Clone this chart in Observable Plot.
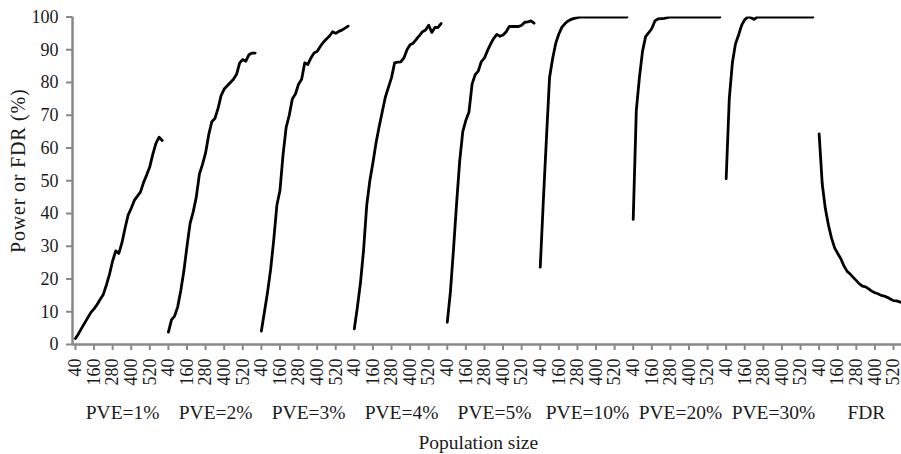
<!DOCTYPE html>
<html>
<head>
<meta charset="utf-8">
<script src="https://cdn.jsdelivr.net/npm/d3@7"></script>
<script src="https://cdn.jsdelivr.net/npm/@observablehq/plot@0.6"></script>
<style>
  html, body { margin: 0; padding: 0; background: #fff; overflow: hidden; }
  #chart { width: 901px; height: 454px; overflow: hidden; }
  #chart .y-title text { letter-spacing: 0.8px; }
</style>
</head>
<body>
<div id="chart"></div>
<script>
// Population sizes simulated within each scenario
const populationSizes = [40, 60, 80, 100, 120, 140, 160, 180, 200, 220, 240, 260, 280, 300, 320,
  340, 360, 380, 400, 420, 440, 460, 480, 500, 520, 540, 560, 580, 600];

// Scenario names, one panel each
const panelLabels = ["PVE=1%", "PVE=2%", "PVE=3%", "PVE=4%", "PVE=5%", "PVE=10%", "PVE=20%", "PVE=30%", "FDR"];

// Power (%) by population size for each proportion of variance explained
const pve1 = [1.8, 3.3, 5.0, 6.6, 8.2, 9.8, 10.9, 12.2, 13.8, 15.3, 18.2, 21.5, 25.5, 28.6, 27.8,
  31.0, 35.5, 39.5, 41.6, 44.0, 45.3, 46.6, 49.5, 51.8, 54.3, 58.2, 61.5, 63.3, 62.3];
const pve2 = [3.8, 7.5, 8.7, 11.5, 16.5, 22.5, 30.0, 37.0, 40.5, 45.0, 52.0, 55.0, 58.5, 64.0, 68.0,
  69.0, 72.0, 76.0, 78.0, 79.0, 80.0, 81.0, 82.5, 86.0, 87.0, 86.5, 88.5, 89.0, 89.0];
const pve3 = [4.1, 10.0, 16.0, 23.0, 32.0, 42.5, 47.0, 58.0, 66.3, 70.0, 75.0, 76.5, 79.5, 81.0, 86.0,
  85.5, 87.5, 89.0, 89.5, 91.0, 92.3, 93.3, 94.2, 95.5, 95.0, 95.6, 96.0, 96.6, 97.2];
const pve4 = [4.8, 11.5, 19.0, 29.0, 42.5, 50.0, 55.5, 61.5, 66.5, 71.0, 75.5, 78.5, 81.5, 86.0, 86.2,
  86.3, 87.5, 90.0, 91.5, 92.0, 93.2, 94.3, 95.5, 96.0, 97.5, 95.3, 96.8, 96.8, 98.0];
const pve5 = [6.8, 16.0, 29.0, 43.0, 56.0, 65.0, 68.5, 71.0, 79.5, 82.4, 83.5, 86.4, 87.5, 89.8, 91.8,
  93.5, 94.7, 94.1, 94.5, 95.5, 97.1, 97.1, 97.1, 97.1, 97.5, 98.4, 98.5, 98.8, 98.1];
const pve10 = [23.6, 44.0, 63.0, 81.5, 87.3, 92.0, 94.8, 96.9, 98.0, 98.8, 99.3, 99.6, 99.8, 100, 100,
  100, 100, 100, 100, 100, 100, 100, 100, 100, 100, 100, 100, 100, 100];
const pve20 = [38.2, 71.5, 81.5, 89.5, 94.0, 95.2, 96.5, 98.8, 99.4, 99.5, 99.6, 99.8, 100, 100, 100,
  100, 100, 100, 100, 100, 100, 100, 100, 100, 100, 100, 100, 100, 100];
const pve30 = [50.6, 75.0, 86.0, 91.8, 94.5, 97.5, 99.2, 100, 99.8, 99.3, 100, 100, 100, 100, 100,
  100, 100, 100, 100, 100, 100, 100, 100, 100, 100, 100, 100, 100, 100];
// False discovery rate (%) by population size
const fdr = [64.3, 49.0, 41.5, 36.5, 32.5, 29.5, 27.8, 26.2, 24.0, 22.4, 21.5, 20.5, 19.5, 18.5, 17.8,
  17.6, 17.0, 16.3, 15.8, 15.5, 15.0, 14.8, 14.4, 13.9, 13.4, 13.3, 13.0, 12.8, 12.6];

const seriesValues = [pve1, pve2, pve3, pve4, pve5, pve10, pve20, pve30, fdr];

// Axis tick labels
const xTickSizes = [40, 160, 280, 400, 520];
const yTicks = [0, 10, 20, 30, 40, 50, 60, 70, 80, 90, 100];

// Panels sit side by side on one shared axis; each takes 600 population units
const PANEL_SPAN = 600;
const FIRST_SIZE = populationSizes[0];
const position = (panelIndex, size) => panelIndex * PANEL_SPAN + size - FIRST_SIZE;

const rows = seriesValues.flatMap((values, p) =>
  values.map((value, i) => ({panel: panelLabels[p], pos: position(p, populationSizes[i]), value}))
);
const xTicks = panelLabels.flatMap((_, p) => xTickSizes.map((n) => position(p, n)));

const serif = "'Liberation Serif', 'Times New Roman', serif";
const axisGray = "#888888";
const ink = "#1a1a1a";

const chart = Plot.plot({
  width: 901,
  height: 454,
  marginLeft: 72,
  marginRight: 0,
  marginTop: 16.5,
  marginBottom: 110,
  style: {fontFamily: serif, background: "#fff", color: ink, overflow: "hidden"},
  x: {domain: [-19, 9 * PANEL_SPAN], range: [72, 911.6], axis: null},
  y: {domain: [0, 100], axis: null},
  marks: [
    Plot.axisY({
      ticks: yTicks, tickSize: 6, tickPadding: 8, fontSize: 18,
      stroke: axisGray, strokeWidth: 2, fill: ink, label: null
    }),
    Plot.axisX({
      ticks: xTicks, tickFormat: (d) => (d % PANEL_SPAN) + FIRST_SIZE,
      tickRotate: -90, tickSize: 6, tickPadding: 8, fontSize: 18,
      stroke: axisGray, strokeWidth: 2, fill: ink, label: null
    }),
    Plot.ruleY([0], {stroke: axisGray, strokeWidth: 2.5}),
    Plot.ruleX([-19], {stroke: axisGray, strokeWidth: 2.5}),
    Plot.line(rows, {
      x: "pos", y: "value", z: "panel", stroke: "#000", strokeWidth: 2.8,
      strokeLinejoin: "round", strokeLinecap: "round", clip: true
    }),
    Plot.text(panelLabels, {
      x: (d, i) => position(i, FIRST_SIZE) + 305, y: () => 0, dy: 68,
      fontSize: 19.5, fill: ink
    }),
    Plot.text(["Population size"], {
      x: () => 2600, y: () => 0, dy: 98, fontSize: 19.5, fill: ink
    }),
    Plot.text(["Power or FDR (%)"], {
      frameAnchor: "left", textAnchor: "middle", rotate: -90, dx: -54, dy: -10,
      fontSize: 20, fill: ink, className: "y-title"
    })
  ]
});

document.getElementById("chart").append(chart);
</script>
</body>
</html>
